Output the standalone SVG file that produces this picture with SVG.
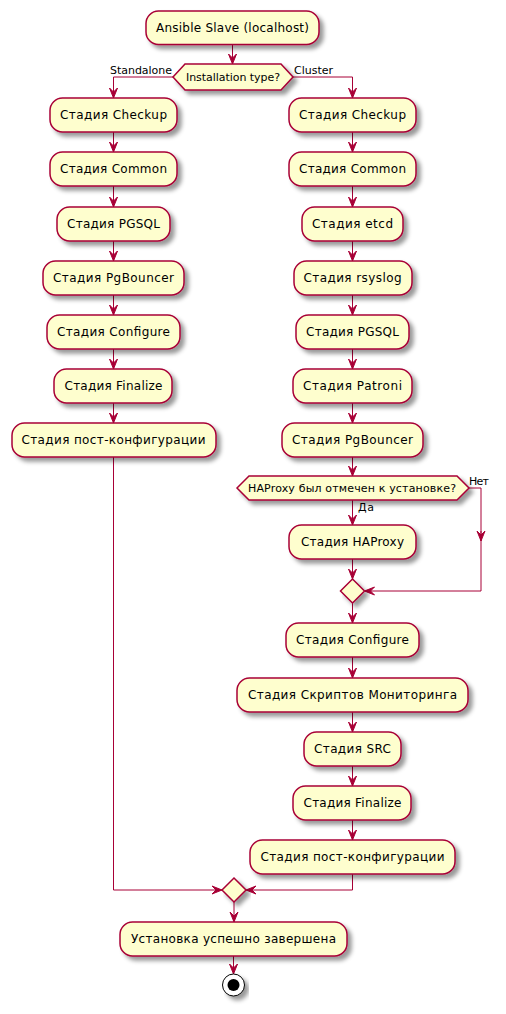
<svg xmlns="http://www.w3.org/2000/svg" width="506" height="1014" viewBox="0 0 506 1014">
<defs>
<filter id="sh" x="-10%" y="-20%" width="130%" height="160%">
<feGaussianBlur in="SourceAlpha" stdDeviation="2" result="b"/>
<feColorMatrix in="b" type="matrix" values="0 0 0 0 0 0 0 0 0 0 0 0 0 0 0 0 0 0 0.4 0" result="c"/>
<feOffset in="c" dx="4" dy="4" result="o"/>
<feBlend in="SourceGraphic" in2="o" mode="normal"/>
</filter>
<marker id="ah" markerWidth="10" markerHeight="10" viewBox="-10 -5 10 10" refX="0" refY="0" orient="auto" markerUnits="userSpaceOnUse">
<path d="M-10,-4 L0,0 L-10,4 L-6,0 Z" fill="#A80036" stroke="#A80036" stroke-width="1"/>
</marker>
</defs>
<style>
.b{fill:#FEFECE;stroke:#A80036;stroke-width:1.5;filter:url(#sh)}
.t{font-family:"DejaVu Sans","Liberation Sans",sans-serif;font-size:12px;fill:#000;text-anchor:middle}
.l{font-family:"DejaVu Sans","Liberation Sans",sans-serif;font-size:11px;fill:#000}
.c{fill:none;stroke:#A80036;stroke-width:1}
</style>
<g id="connectors">
<path class="c" d="M232.5,44 V64" marker-end="url(#ah)"/>
<path class="c" d="M173,77 H113.5 V98" marker-end="url(#ah)"/>
<path class="c" d="M293,77 H352.5 V98" marker-end="url(#ah)"/>
<path class="c" d="M113.5,132 V152" marker-end="url(#ah)"/>
<path class="c" d="M113.5,186 V207" marker-end="url(#ah)"/>
<path class="c" d="M113.5,241 V261" marker-end="url(#ah)"/>
<path class="c" d="M113.5,295 V315" marker-end="url(#ah)"/>
<path class="c" d="M113.5,349 V369" marker-end="url(#ah)"/>
<path class="c" d="M113.5,403 V423" marker-end="url(#ah)"/>
<path class="c" d="M113.5,457 V890 H222" marker-end="url(#ah)"/>
<path class="c" d="M352.5,132 V152" marker-end="url(#ah)"/>
<path class="c" d="M352.5,186 V207" marker-end="url(#ah)"/>
<path class="c" d="M352.5,241 V261" marker-end="url(#ah)"/>
<path class="c" d="M352.5,295 V315" marker-end="url(#ah)"/>
<path class="c" d="M352.5,349 V369" marker-end="url(#ah)"/>
<path class="c" d="M352.5,403 V423" marker-end="url(#ah)"/>
<path class="c" d="M352.5,457 V476" marker-end="url(#ah)"/>
<path class="c" d="M352.5,500 V525" marker-end="url(#ah)"/>
<path class="c" d="M469,488 H481 V541"/>
<path class="c" d="M481,531 V541" marker-end="url(#ah)"/>
<path class="c" d="M481,541 V591 H364.5" marker-end="url(#ah)"/>
<path class="c" d="M352.5,559 V579" marker-end="url(#ah)"/>
<path class="c" d="M352.5,603 V623" marker-end="url(#ah)"/>
<path class="c" d="M352.5,657 V678" marker-end="url(#ah)"/>
<path class="c" d="M352.5,712 V732" marker-end="url(#ah)"/>
<path class="c" d="M352.5,766 V786" marker-end="url(#ah)"/>
<path class="c" d="M352.5,820 V840" marker-end="url(#ah)"/>
<path class="c" d="M352.5,874 V890 H246" marker-end="url(#ah)"/>
<path class="c" d="M234,902 V922" marker-end="url(#ah)"/>
<path class="c" d="M233.5,956 V974" marker-end="url(#ah)"/>
</g>
<g id="start"><rect class="b" x="146" y="11" width="173" height="33.5" rx="12.5"/><text class="t" x="232.5" y="32" textLength="153" lengthAdjust="spacing">Ansible Slave (localhost)</text></g>
<g id="d1"><polygon class="b" points="173,77 185,64 281,64 293,77 281,90 185,90"/><text class="l" x="233" y="81" text-anchor="middle" textLength="94" lengthAdjust="spacing">Installation type?</text>
<text class="l" x="110" y="74" textLength="62" lengthAdjust="spacing">Standalone</text><text class="l" x="294" y="74" textLength="39" lengthAdjust="spacing">Cluster</text></g>
<g id="l1"><rect class="b" x="50" y="98" width="127" height="34" rx="12.5"/><text class="t" x="113.5" y="119" textLength="107" lengthAdjust="spacing">Стадия Checkup</text></g>
<g id="l2"><rect class="b" x="50" y="152" width="127" height="34" rx="12.5"/><text class="t" x="113.5" y="173" textLength="107" lengthAdjust="spacing">Стадия Common</text></g>
<g id="l3"><rect class="b" x="57" y="207" width="113" height="34" rx="12.5"/><text class="t" x="113.5" y="228" textLength="93" lengthAdjust="spacing">Стадия PGSQL</text></g>
<g id="l4"><rect class="b" x="43" y="261" width="141" height="34" rx="12.5"/><text class="t" x="113.5" y="282" textLength="121" lengthAdjust="spacing">Стадия PgBouncer</text></g>
<g id="l5"><rect class="b" x="47" y="315" width="133" height="34" rx="12.5"/><text class="t" x="113.5" y="336" textLength="113" lengthAdjust="spacing">Стадия Configure</text></g>
<g id="l6"><rect class="b" x="54" y="369" width="118" height="34" rx="12.5"/><text class="t" x="113.5" y="390" textLength="98" lengthAdjust="spacing">Стадия Finalize</text></g>
<g id="l7"><rect class="b" x="12" y="423" width="204" height="34" rx="12.5"/><text class="t" x="113.5" y="444" textLength="184" lengthAdjust="spacing">Стадия пост-конфигурации</text></g>
<g id="r1"><rect class="b" x="289" y="98" width="127" height="34" rx="12.5"/><text class="t" x="352.5" y="119" textLength="107" lengthAdjust="spacing">Стадия Checkup</text></g>
<g id="r2"><rect class="b" x="289" y="152" width="127" height="34" rx="12.5"/><text class="t" x="352.5" y="173" textLength="107" lengthAdjust="spacing">Стадия Common</text></g>
<g id="r3"><rect class="b" x="302" y="207" width="101" height="34" rx="12.5"/><text class="t" x="352.5" y="228" textLength="81" lengthAdjust="spacing">Стадия etcd</text></g>
<g id="r4"><rect class="b" x="294" y="261" width="118" height="34" rx="12.5"/><text class="t" x="352.5" y="282" textLength="98" lengthAdjust="spacing">Стадия rsyslog</text></g>
<g id="r5"><rect class="b" x="296" y="315" width="113" height="34" rx="12.5"/><text class="t" x="352.5" y="336" textLength="93" lengthAdjust="spacing">Стадия PGSQL</text></g>
<g id="r6"><rect class="b" x="293" y="369" width="119" height="34" rx="12.5"/><text class="t" x="352.5" y="390" textLength="99" lengthAdjust="spacing">Стадия Patroni</text></g>
<g id="r7"><rect class="b" x="282" y="423" width="141" height="34" rx="12.5"/><text class="t" x="352.5" y="444" textLength="121" lengthAdjust="spacing">Стадия PgBouncer</text></g>
<g id="d2"><polygon class="b" points="237,488 249,476 457,476 469,488 457,500 249,500"/><text class="l" x="352" y="492" text-anchor="middle" textLength="208" lengthAdjust="spacing">HAProxy был отмечен к установке?</text>
<text class="l" x="469" y="485" textLength="20" lengthAdjust="spacing">Нет</text><text class="l" x="358" y="511" textLength="16" lengthAdjust="spacing">Да</text></g>
<g id="r8"><rect class="b" x="289" y="525" width="127" height="34" rx="12.5"/><text class="t" x="352.5" y="546" textLength="103" lengthAdjust="spacing">Стадия HAProxy</text></g>
<g id="m1"><polygon class="b" points="352.5,579 364.5,591 352.5,603 340.5,591"/></g>
<g id="r9"><rect class="b" x="286" y="623" width="133" height="34" rx="12.5"/><text class="t" x="352.5" y="644" textLength="113" lengthAdjust="spacing">Стадия Configure</text></g>
<g id="r10"><rect class="b" x="237" y="678" width="231" height="34" rx="12.5"/><text class="t" x="352.5" y="699" textLength="209" lengthAdjust="spacing">Стадия Скриптов Мониторинга</text></g>
<g id="r11"><rect class="b" x="304" y="732" width="97" height="34" rx="12.5"/><text class="t" x="352.5" y="753" textLength="77" lengthAdjust="spacing">Стадия SRC</text></g>
<g id="r12"><rect class="b" x="293" y="786" width="118" height="34" rx="12.5"/><text class="t" x="352.5" y="807" textLength="98" lengthAdjust="spacing">Стадия Finalize</text></g>
<g id="r13"><rect class="b" x="250" y="840" width="205" height="34" rx="12.5"/><text class="t" x="352.5" y="861" textLength="184" lengthAdjust="spacing">Стадия пост-конфигурации</text></g>
<g id="m2"><polygon class="b" points="234,878 246,890 234,902 222,890"/></g>
<g id="done"><rect class="b" x="120" y="922" width="227" height="34" rx="12.5"/><text class="t" x="233.5" y="943" textLength="205" lengthAdjust="spacing">Установка успешно завершена</text></g>
<g id="stop"><circle cx="233.5" cy="985" r="11" fill="#FFFFFF" stroke="#000000" stroke-width="1" filter="url(#sh)"/><circle cx="233.5" cy="985" r="6" fill="#000000"/></g>
</svg>
